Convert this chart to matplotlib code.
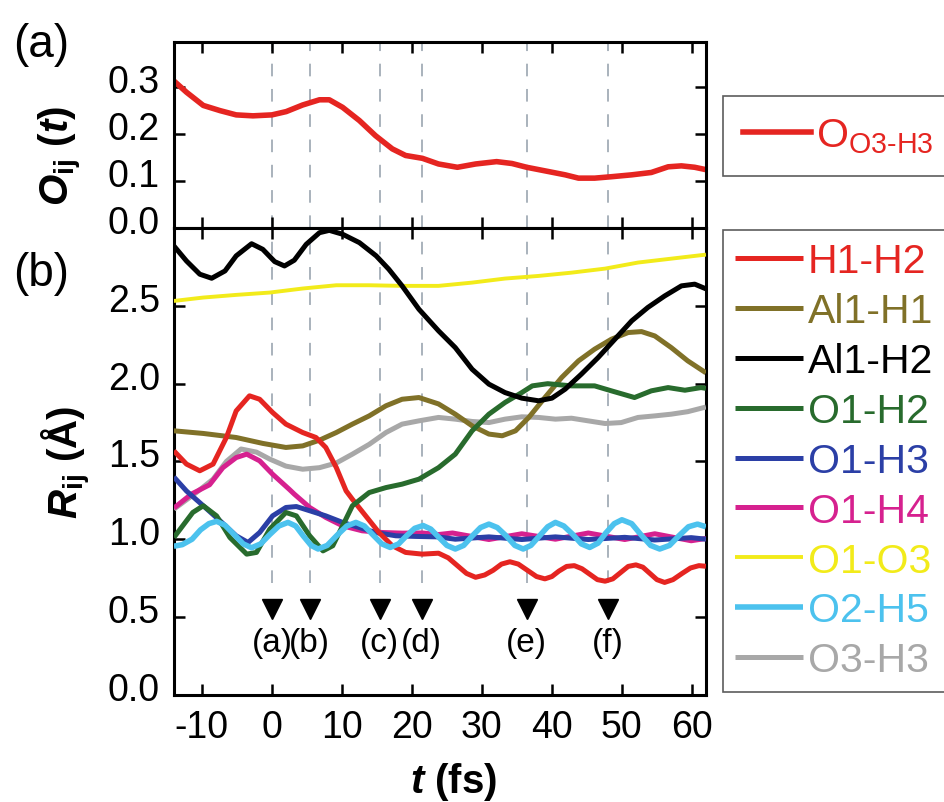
import matplotlib
matplotlib.use("Agg")
import matplotlib.pyplot as plt
import matplotlib.transforms as mtransforms
import numpy as np

plt.rcParams.update({
    "font.family": ["Liberation Sans", "DejaVu Sans"],
    "mathtext.fontset": "custom",
    "mathtext.rm": "Liberation Sans",
    "mathtext.it": "Liberation Sans:italic",
    "mathtext.bf": "Liberation Sans:bold",
    "mathtext.bfit": "Liberation Sans:italic:bold",
    "axes.unicode_minus": False,
    "axes.linewidth": 2.2,
    "xtick.major.width": 1.8,
    "ytick.major.width": 1.8,
    "xtick.major.size": 8,
    "ytick.major.size": 8,
})

# ---- data ----
# (a) overlap population O3-H3
t_O = [-14, -12.2, -9.8, -7.4, -5.1, -2.7, 0, 2.05, 4.4, 6.8, 8.2, 10.1, 12.5, 14.8,
       17.2, 19.1, 21.5, 23.8, 26.5, 29.1, 32.1, 34.3, 36.4, 39.5, 41.9, 43.8, 46.1,
       48.5, 51.4, 54.2, 56.6, 58.5, 60.4, 62]
O_O3H3 = [0.312, 0.288, 0.26, 0.249, 0.24, 0.238, 0.24, 0.247, 0.261, 0.272, 0.272,
          0.256, 0.228, 0.196, 0.168, 0.154, 0.148, 0.136, 0.129, 0.136, 0.141, 0.137,
          0.129, 0.12, 0.113, 0.106, 0.106, 0.109, 0.113, 0.118, 0.130, 0.132, 0.129, 0.124]

# (b) interatomic distances
t_H1H2 = [-14, -12.2, -10.3, -8.4, -6.5, -5.1, -3.2, -1.75, 0.1, 2.0, 4.4, 6.3, 7.7, 9.2,
          10.6, 11.5, 13.4, 15.3, 17.2, 19.1, 21.5, 23.8, 25.2, 26.5, 27.8, 29.1, 30.4,
          31.6, 32.8, 34.0, 35.2, 36.5, 37.8, 39.0, 40.0, 41.0, 42.1, 43.2, 44.3, 45.4,
          46.5, 47.6, 48.7, 49.8, 50.9, 52.0, 53.0, 54.0, 55.0, 56.1, 57.3, 58.6, 59.8,
          61.0, 62]
R_H1H2 = [1.568, 1.483, 1.44, 1.483, 1.654, 1.825, 1.922, 1.9, 1.815, 1.74, 1.686, 1.654,
          1.59, 1.461, 1.311, 1.257, 1.15, 1.043, 0.958, 0.915, 0.904, 0.91, 0.88, 0.83,
          0.78, 0.755, 0.77, 0.80, 0.84, 0.855, 0.84, 0.80, 0.76, 0.745, 0.76, 0.795,
          0.825, 0.83, 0.81, 0.775, 0.74, 0.73, 0.745, 0.785, 0.825, 0.835, 0.82, 0.78,
          0.74, 0.722, 0.74, 0.78, 0.815, 0.83, 0.826]

t_Al1H1 = [-14, -9.8, -5.1, -1.3, 2.0, 4.4, 6.8, 9.2, 11.5, 13.9, 16.3, 18.6, 21.0, 23.8,
           26.2, 28.6, 31.0, 32.9, 34.8, 36.7, 39.0, 41.4, 43.8, 46.1, 48.5, 50.9, 52.8,
           54.7, 57.05, 59.4, 62]
R_Al1H1 = [1.697, 1.68, 1.654, 1.616, 1.59, 1.6, 1.637, 1.686, 1.74, 1.793, 1.858, 1.9,
           1.911, 1.87, 1.804, 1.729, 1.676, 1.665, 1.697, 1.783, 1.911, 2.04, 2.147,
           2.222, 2.286, 2.329, 2.335, 2.307, 2.232, 2.147, 2.07]

t_Al1H2 = [-14, -12.2, -10.3, -8.6, -6.7, -5.1, -2.9, -1.3, 0.4, 1.8, 3.2, 4.9, 6.8, 8.2,
           10.1, 12.5, 14.9, 16.7, 18.6, 21.0, 23.8, 26.2, 28.6, 31.0, 33.3, 35.7, 38.1,
           40.0, 41.9, 44.2, 46.6, 49.0, 51.4, 53.7, 56.1, 58.5, 60.4, 62]
R_Al1H2 = [2.886, 2.789, 2.704, 2.678, 2.725, 2.822, 2.9, 2.864, 2.785, 2.757, 2.794,
           2.896, 2.971, 2.986, 2.961, 2.907, 2.822, 2.736, 2.629, 2.479, 2.34, 2.232,
           2.093, 1.997, 1.943, 1.907, 1.89, 1.907, 1.965, 2.061, 2.168, 2.286, 2.404,
           2.49, 2.564, 2.629, 2.64, 2.61]

t_O1H2 = [-14, -11.3, -9.8, -7.9, -6.0, -3.6, -2.2, -0.3, 2.0, 3.5, 5.4, 7.3, 8.7, 10.1,
          11.5, 13.9, 16.3, 18.6, 21.0, 23.8, 26.2, 28.6, 31.0, 33.3, 35.7, 37.2, 39.4,
          42.8, 46.1, 48.5, 51.8, 54.2, 56.6, 59.0, 61.3, 62]
R_O1H2 = [1.011, 1.172, 1.215, 1.15, 1.011, 0.904, 0.915, 1.065, 1.172, 1.15, 1.022,
          0.925, 0.958, 1.086, 1.215, 1.30, 1.332, 1.354, 1.386, 1.46, 1.547, 1.697,
          1.804, 1.879, 1.943, 1.986, 2.0, 1.986, 1.986, 1.954, 1.911, 1.954, 1.975,
          1.958, 1.975, 1.97]

t_O1H3 = [-14, -12.2, -9.8, -7.4, -5.1, -3.4, -1.75, 0.1, 2.0, 3.5, 5.4, 7.7, 10.1, 12.5,
          14.8, 17.7, 20.5, 23.7, 26.2, 31.0, 35.7, 40.5, 45.2, 50.4, 54.7, 59.9, 62]
R_O1H3 = [1.40, 1.31, 1.215, 1.118, 1.022, 0.979, 1.043, 1.15, 1.204, 1.21, 1.183, 1.15,
          1.108, 1.075, 1.043, 1.022, 1.018, 1.015, 1.0, 1.015, 0.998, 1.015, 0.998,
          1.012, 0.995, 1.01, 1.0]

t_O1H4 = [-14, -11.5, -8.9, -7.0, -5.1, -3.6, -1.75, 0.1, 2.5, 3.2, 5.4, 7.7, 10.1, 12.9,
          15.8, 18.6, 21.5, 23.8, 25.8, 31.0, 35.7, 40.5, 45.2, 50.4, 54.7, 59.9, 62]
R_O1H4 = [1.2, 1.29, 1.35, 1.46, 1.525, 1.547, 1.504, 1.418, 1.32, 1.29, 1.204, 1.14,
          1.086, 1.054, 1.043, 1.039, 1.04, 1.03, 1.04, 0.998, 1.035, 1.0, 1.04, 0.998,
          1.035, 0.99, 1.005]

t_O1O3 = [-14, -9.8, -5.1, -0.3, 4.4, 9.2, 13.9, 18.6, 23.8, 28.6, 33.3, 38.1, 42.8,
          47.6, 52.3, 57.05, 62]
R_O1O3 = [2.532, 2.554, 2.571, 2.586, 2.612, 2.633, 2.633, 2.629, 2.629, 2.65, 2.676,
          2.693, 2.714, 2.74, 2.779, 2.804, 2.83]

t_O2H5 = [-14.0, -12.8, -11.4, -10.2, -9.0, -7.9, -6.7, -5.4, -4.1, -2.9, -1.6, -0.3, 1.0,
          2.3, 3.4, 4.5, 5.6, 6.6, 7.9, 9.3, 10.7, 12.0, 13.2, 14.5, 15.7, 16.9, 18.1,
          19.3, 20.4, 21.6, 22.7, 23.9, 25.0, 26.2, 27.4, 28.6, 29.8, 31.0, 32.2, 33.5,
          34.7, 35.9, 37.0, 38.2, 39.4, 40.5, 41.7, 43.0, 44.2, 45.4, 46.6, 47.7, 48.9,
          50.0, 51.4, 52.7, 54.1, 55.4, 56.8, 58.1, 59.5, 60.8, 62.0]
R_O2H5 = [0.955, 0.965, 1.00, 1.06, 1.10, 1.115, 1.09, 1.03, 0.97, 0.945, 0.97, 1.03,
          1.085, 1.108, 1.085, 1.02, 0.96, 0.937, 0.96, 1.025, 1.085, 1.108, 1.085, 1.025,
          0.97, 0.947, 0.97, 1.025, 1.07, 1.088, 1.065, 1.01, 0.96, 0.937, 0.96, 1.02,
          1.075, 1.097, 1.075, 1.02, 0.96, 0.937, 0.96, 1.02, 1.08, 1.108, 1.085, 1.03,
          0.97, 0.947, 0.975, 1.04, 1.10, 1.125, 1.10, 1.03, 0.96, 0.937, 0.96, 1.02,
          1.08, 1.097, 1.08]

t_O3H3 = [-14, -10.8, -8.4, -6.5, -4.4, -2.2, -0.3, 2.0, 4.4, 6.8, 9.2, 11.5, 13.9, 16.3,
          18.6, 21.0, 23.8, 26.2, 28.6, 31.0, 33.3, 35.7, 38.1, 40.5, 42.8, 45.2, 47.6,
          49.9, 52.3, 54.7, 57.05, 59.4, 62]
R_O3H3 = [1.193, 1.30, 1.386, 1.50, 1.58, 1.56, 1.515, 1.47, 1.45, 1.46, 1.49, 1.547,
          1.61, 1.686, 1.74, 1.761, 1.783, 1.772, 1.757, 1.75, 1.772, 1.787, 1.783, 1.772,
          1.778, 1.761, 1.744, 1.75, 1.783, 1.793, 1.804, 1.82, 1.85]

# snapshot times (a)-(f)
snap_t = [0.0, 5.4, 15.4, 21.4, 36.4, 48.0]
snap_lbl = ["(a)", "(b)", "(c)", "(d)", "(e)", "(f)"]

# ---- figure ----
fig = plt.figure(figsize=(9.45, 8.03), dpi=100)
ax_a = fig.add_axes([0.184, 0.7146, 0.563, 0.2322])
ax_b = fig.add_axes([0.184, 0.1336, 0.563, 0.5810])

dash_col = "#a3adb6"
for t in snap_t:
    ax_a.axvline(t, color=dash_col, lw=1.3, ls=(0, (7, 7)), zorder=0)
    ax_b.vlines(t, 0.72, 3.0, color=dash_col, lw=1.3, ls=(0, (7, 7)), zorder=0)

ax_a.plot(t_O, O_O3H3, color="#e52521", lw=4.0, solid_joinstyle="round",
          label=r"O$_{\mathrm{O3\text{-}H3}}$")

series = [
    ("H1-H2", t_H1H2, R_H1H2, "#e52521", 3.6, 6),
    ("Al1-H1", t_Al1H1, R_Al1H1, "#807128", 3.6, 3),
    ("Al1-H2", t_Al1H2, R_Al1H2, "#000000", 3.6, 7),
    ("O1-H2", t_O1H2, R_O1H2, "#286b2d", 3.6, 6),
    ("O1-H3", t_O1H3, R_O1H3, "#2b3fa6", 3.6, 5),
    ("O1-H4", t_O1H4, R_O1H4, "#d6218f", 3.6, 4),
    ("O1-O3", t_O1O3, R_O1O3, "#f2eb1a", 2.8, 2),
    ("O2-H5", t_O2H5, R_O2H5, "#4cc2ee", 4.0, 8),
    ("O3-H3", t_O3H3, R_O3H3, "#a8a8a8", 3.6, 1),
]
for name, tt, rr, col, lw, z in series:
    ax_b.plot(tt, rr, color=col, lw=lw, label=name, zorder=z + 2,
              solid_joinstyle="round", solid_capstyle="butt")

ax_b.plot(snap_t, [0.55] * len(snap_t), "v", color="black", ms=14, zorder=12)
for t, s in zip(snap_t, snap_lbl):
    ax_b.text(t, 0.335, s, ha="center", va="center", fontsize=24)

xt = np.arange(-10, 61, 10)
for ax in (ax_a, ax_b):
    ax.set_xlim(-14, 62)
    ax.set_xticks(xt)
    ax.tick_params(direction="in", top=True, right=True, labelsize=27, pad=10)
ax_a.tick_params(labelbottom=False)
ax_a.set_ylim(0, 0.395)
ax_a.set_yticks([0.0, 0.1, 0.2, 0.3])
ax_a.set_yticklabels(["0.0", "0.1", "0.2", "0.3"])
ax_b.set_ylim(0, 3.0)
ax_b.set_yticks([0.0, 0.5, 1.0, 1.5, 2.0, 2.5])
ax_b.set_yticklabels(["0.0", "0.5", "1.0", "1.5", "2.0", "2.5"])

# y tick labels sit slightly above their ticks in the original
shift = mtransforms.ScaledTranslation(0, 6.5 / 72, fig.dpi_scale_trans)
for ax in (ax_a, ax_b):
    for lbl in ax.get_yticklabels():
        lbl.set_transform(lbl.get_transform() + shift)

ax_a.set_ylabel(r"$\mathbfit{O}_{\mathbf{ij}}\ \mathbf{(}\mathbfit{t}\mathbf{)}$", fontsize=29)
ax_a.yaxis.set_label_coords(-0.168, 0.39)
ax_b.set_ylabel(r"$\mathbfit{R}_{\mathbf{ij}}\ \mathbf{(Å)}$", fontsize=29)
ax_b.yaxis.set_label_coords(-0.152, 0.50)
ax_b.set_xlabel(r"$\mathbfit{t}\ \mathbf{(fs)}$", fontsize=29)
ax_b.xaxis.set_label_coords(0.525, -0.14)

fig.text(0.014, 0.944, "(a)", fontsize=33, ha="left", va="center")
fig.text(0.014, 0.659, "(b)", fontsize=33, ha="left", va="center")

leg_kw = dict(fontsize=29.5, frameon=True, fancybox=False, handlelength=1.65,
              handletextpad=0.12, borderaxespad=0, labelcolor="linecolor")
la = ax_a.legend(loc="upper left", bbox_to_anchor=(0.765, 0.879),
                 bbox_transform=fig.transFigure, borderpad=0.5, **leg_kw)
lb = ax_b.legend(loc="upper left", bbox_to_anchor=(0.765, 0.7123),
                 bbox_transform=fig.transFigure, borderpad=0.3, labelspacing=0.29, **leg_kw)
for lg in (la, lb):
    lg.get_frame().set_edgecolor("#333333")
    lg.get_frame().set_linewidth(1.2)

fig.savefig("out.png", dpi=100)
